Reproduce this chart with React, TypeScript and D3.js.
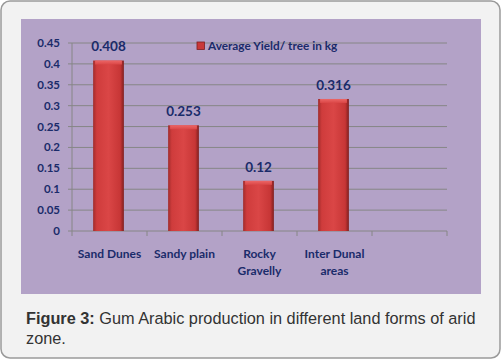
import React from 'react';
import * as d3 from 'd3';

const W = 501;
const H = 360;

// chart data
const categories = ['Sand Dunes', 'Sandy plain', 'Rocky Gravelly', 'Inter Dunal areas', ''];
const categoryLines = [['Sand Dunes'], ['Sandy plain'], ['Rocky', 'Gravelly'], ['Inter Dunal', 'areas'], []];
const yieldValues = [0.408, 0.253, 0.12, 0.316];
const yTicks = [0, 0.05, 0.1, 0.15, 0.2, 0.25, 0.3, 0.35, 0.4, 0.45];
const seriesName = 'Average Yield/ tree in kg';

const plot = { left: 72, right: 447, top: 43, bottom: 231 };

const x = d3.scaleBand<string>()
  .domain(categories)
  .range([plot.left, plot.right])
  .padding(0);

const y = d3.scaleLinear()
  .domain([0, 0.45])
  .range([plot.bottom, plot.top]);

const navy = '#1a2b6a';
const font = 'Lato, "Open Sans", sans-serif';

export default function App() {
  const step = x.step();
  const barW = step * 0.41;
  const ticksX = d3.range(categories.length + 1).map(i => plot.left + i * step);

  return (
    <svg width={W} height={H} style={{ position: 'absolute', left: 0, top: 0 }}>
      <defs>
        <linearGradient id="barGrad" x1="0" x2="1" y1="0" y2="0">
          <stop offset="0" stopColor="#a02c2c" />
          <stop offset="0.12" stopColor="#cf3c3c" />
          <stop offset="0.5" stopColor="#da4646" />
          <stop offset="0.88" stopColor="#c73636" />
          <stop offset="1" stopColor="#7f1e1e" />
        </linearGradient>
        <linearGradient id="capGrad" x1="0" x2="0" y1="0" y2="1">
          <stop offset="0" stopColor="#ec6666" />
          <stop offset="1" stopColor="#da4646" />
        </linearGradient>
      </defs>

      {/* card */}
      <rect x={1} y={1} width={W - 2} height={H - 3} rx={9} fill="#f2f2f2" stroke="#9a9a9a" strokeWidth={1.5} />
      {/* chart panel */}
      <rect x={21} y={19} width={460} height={275} fill="#b3a2c7" />

      {/* gridlines */}
      {yTicks.slice(1).map(t => (
        <line key={t} x1={plot.left} x2={plot.right} y1={y(t)} y2={y(t)} stroke="#868686" strokeWidth={1} />
      ))}
      {/* axes */}
      <line x1={plot.left} x2={plot.left} y1={plot.top} y2={plot.bottom} stroke="#868686" />
      <line x1={plot.left} x2={plot.right} y1={plot.bottom} y2={plot.bottom} stroke="#868686" />
      {yTicks.map(t => (
        <line key={'yt' + t} x1={plot.left - 4} x2={plot.left} y1={y(t)} y2={y(t)} stroke="#868686" />
      ))}
      {ticksX.map((tx, i) => (
        <line key={'xt' + i} x1={tx} x2={tx} y1={plot.bottom} y2={plot.bottom + 5} stroke="#868686" />
      ))}

      {/* y tick labels */}
      {yTicks.map(t => (
        <text key={'yl' + t} x={60} y={y(t)} dy="0.35em" textAnchor="end"
          fontFamily={font} fontWeight={700} fontSize={11.5} fill={navy}>{String(t)}</text>
      ))}

      {/* bars */}
      {yieldValues.map((v, i) => {
        const cx = x(categories[i])! + step / 2 - 1;
        const top = y(v);
        return (
          <g key={'b' + i}>
            <rect x={cx - barW / 2} y={top} width={barW} height={plot.bottom - top} fill="url(#barGrad)" />
            <rect x={cx - barW / 2 + 2} y={top} width={barW - 4} height={4} fill="url(#capGrad)" />
            <text x={cx} y={top - 14} dy="0.35em" textAnchor="middle"
              fontFamily={font} fontWeight={700} fontSize={13.5} fill={navy}>{String(v)}</text>
          </g>
        );
      })}

      {/* category labels */}
      {categoryLines.map((lines, i) => lines.map((ln, j) => (
        <text key={'c' + i + j} x={x(categories[i])! + step / 2} y={254 + j * 17} dy="0.35em" textAnchor="middle"
          fontFamily={font} fontWeight={700} fontSize={12} fill={navy}>{ln}</text>
      )))}

      {/* legend */}
      <rect x={197} y={42} width={7.5} height={7.5} fill="#c93838" stroke="#7f1e1e" strokeWidth={0.8} />
      <text x={208} y={45.5} dy="0.35em" fontFamily={font} fontWeight={700} fontSize={11.8} fill={navy}>{seriesName}</text>

      {/* caption */}
      <text x={26} y={324} fontFamily='"Liberation Sans", Arial, sans-serif' fontSize={16.3} fill="#333">
        <tspan fontWeight={700}>Figure 3:</tspan> Gum Arabic production in different land forms of arid
      </text>
      <text x={26} y={344} fontFamily='"Liberation Sans", Arial, sans-serif' fontSize={16.3} fill="#333">zone.</text>
    </svg>
  );
}
